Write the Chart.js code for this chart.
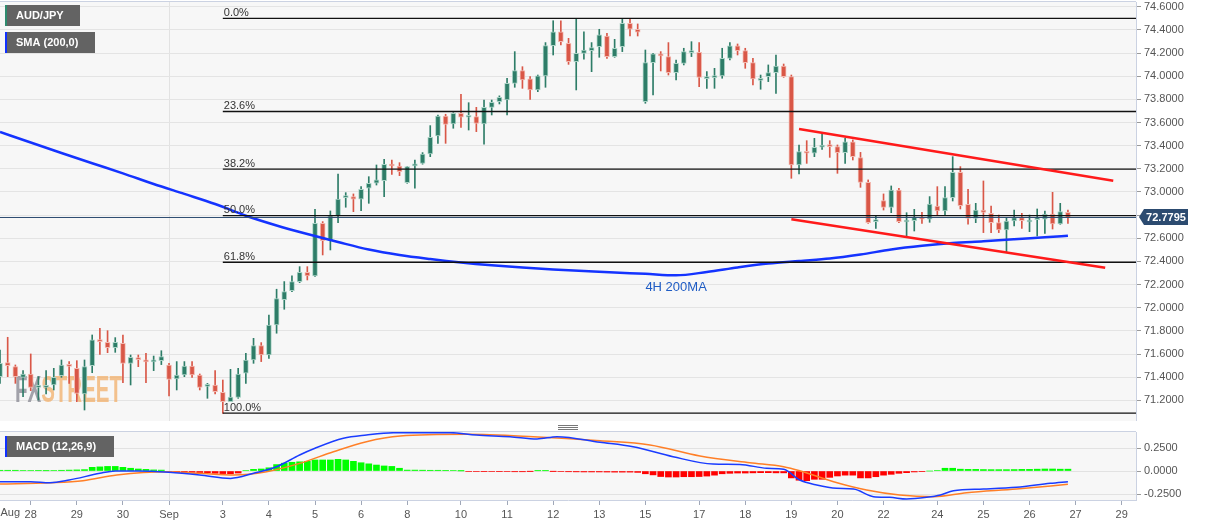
<!DOCTYPE html>
<html><head><meta charset="utf-8">
<script src="https://cdn.jsdelivr.net/npm/chart.js@4.4.1/dist/chart.umd.min.js"></script>
<style>
html,body{margin:0;padding:0;background:#fff;overflow:hidden;width:1207px;height:526px}
#main{position:absolute;left:0;top:0}
#macd{position:absolute;left:0;top:421px}
</style></head><body>
<canvas id="main" width="1207" height="425"></canvas>
<canvas id="macd" width="1207" height="105"></canvas>
<script>
// ---------- DATA (4-hour candles, index 0 = first candle of Aug 28) ----------
const FIRST_INDEX = -4;
const opens = [71.405,71.526,71.491,71.399,71.428,71.313,71.313,71.333,71.414,71.509,71.477,71.255,71.500,71.722,71.701,71.655,71.693,71.520,71.569,71.549,71.532,71.543,71.506,71.385,71.419,71.497,71.419,71.321,71.333,71.270,71.189,71.226,71.434,71.549,71.673,71.592,71.851,72.070,72.148,72.226,72.306,72.275,72.729,72.580,72.793,72.951,72.960,72.937,73.032,73.075,73.098,73.239,73.224,73.081,73.224,73.247,73.328,73.484,73.656,73.587,73.679,73.645,73.650,73.587,73.731,73.780,73.794,73.938,74.048,73.976,73.881,74.002,74.264,74.384,74.284,74.125,74.197,74.220,74.255,74.347,74.169,74.255,74.456,74.405,73.780,74.117,74.192,74.169,74.030,74.111,74.203,74.206,73.979,73.987,74.002,74.154,74.261,74.220,74.117,73.964,73.996,74.030,74.088,73.996,73.233,73.348,73.334,73.386,73.400,73.391,73.340,73.432,73.296,73.083,72.744,72.925,72.867,73.017,72.741,72.752,72.781,72.764,72.879,72.836,72.951,73.170,72.893,72.772,72.844,72.816,72.735,72.672,72.749,72.778,72.741,72.761,72.764,72.810,72.724,72.824];
const highs = [71.635,71.745,71.506,71.457,71.601,71.405,71.457,71.477,71.549,71.535,71.543,71.549,71.765,71.822,71.802,71.742,71.765,71.592,71.592,71.606,71.583,71.629,71.520,71.535,71.535,71.535,71.428,71.347,71.457,71.376,71.468,71.477,71.606,71.736,71.699,71.937,72.160,72.226,72.275,72.355,72.355,72.850,72.744,72.836,73.155,72.994,72.983,73.046,73.132,73.233,73.282,73.276,73.253,73.219,73.276,73.340,73.573,73.665,73.671,73.685,73.843,73.771,73.731,73.794,73.794,73.830,73.982,74.212,74.082,73.996,74.010,74.290,74.479,74.479,74.327,74.494,74.384,74.290,74.405,74.370,74.318,74.494,74.494,74.451,74.226,74.197,74.212,74.290,74.140,74.241,74.298,74.290,74.039,74.068,74.241,74.290,74.278,74.241,74.154,74.010,74.097,74.183,74.105,74.010,73.406,73.443,73.463,73.501,73.443,73.406,73.463,73.449,73.342,73.104,72.796,72.983,73.052,73.032,72.821,72.850,72.824,72.960,73.046,73.046,73.305,73.219,73.023,72.902,73.095,72.879,72.801,72.781,72.844,72.816,72.801,72.853,72.836,72.997,72.902,72.844];
const lows = [71.347,71.405,71.347,71.232,71.284,71.203,71.255,71.290,71.399,71.347,71.189,71.117,71.439,71.598,71.612,71.615,71.353,71.333,71.491,71.353,71.457,71.509,71.238,71.290,71.405,71.399,71.290,71.218,71.255,71.088,71.189,71.218,71.347,71.520,71.535,71.563,71.780,71.987,72.139,72.217,72.240,72.270,72.456,72.499,72.735,72.868,72.830,72.839,72.902,73.060,72.960,73.152,73.141,73.075,73.032,73.240,73.305,73.420,73.420,73.550,73.558,73.535,73.521,73.412,73.665,73.760,73.665,73.904,73.895,73.800,73.866,73.904,74.183,74.269,74.102,73.881,74.146,74.039,74.163,74.154,74.163,74.212,74.347,74.347,73.766,73.838,74.045,74.010,73.967,74.097,74.169,73.910,73.895,73.895,73.982,74.140,74.183,74.068,73.924,73.887,73.953,73.852,73.990,73.118,73.155,73.247,73.305,73.368,73.299,73.161,73.247,73.276,73.040,72.729,72.686,72.844,72.821,72.735,72.620,72.663,72.729,72.738,72.796,72.801,72.922,72.853,72.721,72.735,72.649,72.649,72.649,72.479,72.706,72.686,72.657,72.620,72.643,72.680,72.721,72.729];
const closes = [71.520,71.500,71.405,71.428,71.313,71.324,71.324,71.399,71.506,71.494,71.261,71.491,71.722,71.707,71.655,71.701,71.520,71.572,71.552,71.532,71.540,71.578,71.382,71.419,71.497,71.419,71.313,71.333,71.275,71.189,71.229,71.428,71.549,71.673,71.592,71.851,72.080,72.139,72.226,72.306,72.275,72.729,72.580,72.793,72.939,72.960,72.937,73.023,73.075,73.104,73.239,73.224,73.176,73.219,73.242,73.328,73.472,73.656,73.584,73.679,73.645,73.656,73.593,73.731,73.774,73.817,73.938,74.048,73.967,73.881,74.002,74.264,74.384,74.298,74.125,74.197,74.226,74.246,74.356,74.169,74.241,74.456,74.405,74.379,74.117,74.192,74.174,74.030,74.111,74.212,74.212,73.990,73.990,74.002,74.154,74.261,74.220,74.117,73.976,73.982,74.030,74.088,73.996,73.233,73.348,73.334,73.386,73.406,73.391,73.340,73.432,73.305,73.083,72.735,72.752,72.867,73.017,72.744,72.749,72.781,72.764,72.896,72.836,72.951,73.170,72.882,72.772,72.844,72.824,72.735,72.672,72.749,72.778,72.752,72.749,72.770,72.810,72.724,72.830,72.7795];

// 200-period SMA read at sample candle indices
const smaIdx = [-4,0,4,8,12,16,20,24,28,32,36,40,44,48,52,56,60,64,68,72,76,80,84,88,92,96,100,104,108,112,116,120,124,128,132,135];
const smaVal = [73.518,73.427,73.337,73.248,73.161,73.069,72.983,72.896,72.795,72.711,72.637,72.568,72.503,72.456,72.421,72.391,72.367,72.348,72.331,72.318,72.305,72.293,72.280,72.309,72.348,72.382,72.404,72.425,72.460,72.503,72.535,72.559,72.574,72.591,72.609,72.622];

// Fibonacci retracement
const fibLabels = ['0.0%','23.6%','38.2%','50.0%','61.8%','100.0%'];
const fibPrices = [74.50,73.695,73.197,72.795,72.393,71.09];
const fibStartIdx = 25;

// Channel trend lines [start, end]
const upperLineIdx = [100.0,140.9];  const upperLineVal = [73.544,73.097];
const lowerLineIdx = [99.0,139.85];  const lowerLineVal = [72.764,72.346];

const lastPrice = 72.7795;
const priceTicks = [71.2,71.4,71.6,71.8,72.0,72.2,72.4,72.6,72.8,73.0,73.2,73.4,73.6,73.8,74.0,74.2,74.4,74.6];

// MACD (12,26,9)
const macdIdx = [-4,0,2.5,5,9,11,14,18,22,26,29,32,35,37,40.7,43.7,47.2,54.6,58,62.4,65.9,68.5,74.1,78.4,83.6,88.8,92.3,95.8,98,100.1,102.3,104.9,107.1,109.7,111.8,114,116.6,118.4,120.1,124,128.3,132.7,135];
const macdVal = [-0.116,-0.116,-0.127,-0.098,-0.025,0.0,0.0,-0.014,-0.043,-0.080,-0.025,0.047,0.174,0.247,0.355,0.391,0.416,0.417,0.391,0.373,0.348,0.373,0.312,0.264,0.155,0.076,0.072,0.029,0.018,-0.098,-0.152,-0.188,-0.196,-0.279,-0.286,-0.304,-0.286,-0.261,-0.214,-0.196,-0.177,-0.134,-0.116];
const signalIdx = [-4,2.5,6.8,11.2,17.7,22,26.4,30.7,35,39.4,43.7,48.1,56.7,65.4,74.1,80.6,87.1,93.6,98,100.1,104.5,108.8,113.1,117.5,121.8,128.3,135];
const signalVal = [-0.141,-0.127,-0.105,-0.043,-0.007,-0.025,-0.043,-0.007,0.083,0.210,0.319,0.380,0.399,0.373,0.329,0.283,0.163,0.090,0.047,0.003,-0.116,-0.207,-0.261,-0.279,-0.236,-0.196,-0.145];
const histVal = [0.008,0.008,0.008,0.006,0.005,0.004,0.003,0.006,0.008,0.010,0.012,0.015,0.040,0.045,0.050,0.050,0.040,0.030,0.022,0.018,0.012,0.010,-0.008,-0.010,-0.013,-0.014,-0.017,-0.018,-0.025,-0.028,-0.030,-0.022,0.005,0.018,0.022,0.035,0.070,0.085,0.095,0.100,0.105,0.120,0.120,0.120,0.127,0.120,0.105,0.090,0.078,0.065,0.055,0.050,0.030,0.010,0.010,0.009,0.008,0.008,0.007,0.006,0.001,-0.006,-0.006,-0.007,-0.005,-0.004,-0.006,-0.008,-0.008,-0.002,0.003,0.003,-0.002,-0.006,-0.008,-0.009,-0.010,-0.010,-0.010,-0.011,-0.012,-0.012,-0.012,-0.015,-0.030,-0.042,-0.060,-0.065,-0.065,-0.062,-0.062,-0.060,-0.055,-0.045,-0.030,-0.025,-0.022,-0.022,-0.020,-0.018,-0.018,-0.020,-0.020,-0.075,-0.100,-0.105,-0.090,-0.090,-0.069,-0.054,-0.045,-0.045,-0.075,-0.075,-0.062,-0.045,-0.036,-0.025,-0.018,-0.010,-0.004,0.000,0.006,0.030,0.030,0.020,0.018,0.018,0.016,0.015,0.015,0.015,0.016,0.018,0.018,0.020,0.022,0.022,0.020,0.020];
const macdTicks = [-0.25,0,0.25];

// Date axis
const tickPositions = [0,6,12,18,25,31,37,43,49,56,62,68,74,80,87,93,99,105,111,118,124,130,136,142];
const tickLabels = ['28','29','30','Sep','3','4','5','6','8','10','11','12','13','15','17','18','19','20','22','24','25','26','27','29'];
const firstMonthLabel = 'Aug';

// ---------- STYLE ----------
const X_MIN = -4.0, X_MAX = 143.86;
const UP = '#2e7d68', DOWN = '#d95747', UP_EDGE = '#a9d2c5', DOWN_EDGE = '#f2b9b0';
const FONT = '"Liberation Sans", Arial, sans-serif';
Chart.defaults.font.family = FONT;
Chart.defaults.animation = false;

const candleX = opens.map((_, i) => FIRST_INDEX + i);
const isUp = i => closes[i] >= opens[i];
const pts = (xs, ys) => xs.map((x, i) => ({x, y: ys[i]}));

function fixY(w){ return s => { s.width = w; s.paddingTop = 0; s.paddingBottom = 0; }; }
function fixX(h){ return s => { s.height = h; s.paddingLeft = 0; s.paddingRight = 0; }; }

function legendBox(ctx, x, y, w, h, stripe, text){
  ctx.save();
  ctx.fillStyle = '#636363'; ctx.fillRect(x, y, w, h);
  ctx.fillStyle = stripe; ctx.fillRect(x, y, 2, h);
  ctx.fillStyle = '#fff'; ctx.font = 'bold 11px ' + FONT;
  ctx.textAlign = 'left'; ctx.textBaseline = 'middle';
  ctx.fillText(text, x + 11, y + h/2 + 0.5);
  ctx.restore();
}

const lineDs = (data, color, width, order, extra) => Object.assign({
  type: 'line', data, borderColor: color, borderWidth: width, pointRadius: 0,
  fill: false, order, tension: 0
}, extra || {});

// ---------- MAIN CHART ----------
const fibDatasets = fibPrices.map(p => lineDs([{x: fibStartIdx, y: p}, {x: X_MAX, y: p}], '#111', 1.3, 2));

const mainDecor = {
  id: 'mainDecor',
  beforeDraw(chart){
    const {ctx, chartArea: a} = chart;
    ctx.save();
    ctx.fillStyle = '#fff'; ctx.fillRect(0, 0, chart.width, chart.height);
    ctx.fillStyle = '#f7f7f7'; ctx.fillRect(a.left, a.top, a.right - a.left, a.bottom - a.top);
    ctx.restore();
  },
  beforeDatasetsDraw(chart){
    const {ctx} = chart;
    ctx.save();
    ctx.font = 'bold 36px ' + FONT;
    const wFX = ctx.measureText('FX').width, wST = ctx.measureText('STREET').width;
    const sx = 107 / (wFX + wST);
    ctx.translate(15, 402); ctx.scale(sx, 1);
    ctx.textBaseline = 'alphabetic'; ctx.textAlign = 'left';
    ctx.fillStyle = 'rgba(140,140,150,0.8)'; ctx.fillText('FX', 0, 0);
    ctx.fillStyle = 'rgba(242,175,105,0.75)'; ctx.fillText('STREET', wFX, 0);
    ctx.restore();
  },
  afterDatasetsDraw(chart){
    const {ctx, chartArea: a} = chart;
    const xs = chart.scales.x, ys = chart.scales.y;
    ctx.save();
    // fib labels
    ctx.font = '11px ' + FONT; ctx.fillStyle = '#333';
    ctx.textAlign = 'left'; ctx.textBaseline = 'alphabetic';
    const fx = xs.getPixelForValue(fibStartIdx);
    fibLabels.forEach((t, i) => ctx.fillText(t, fx + 1, ys.getPixelForValue(fibPrices[i]) - 2.5));
    // SMA label
    ctx.font = '13px ' + FONT; ctx.fillStyle = '#1f5cc4'; ctx.textAlign = 'center'; ctx.textBaseline = 'middle';
    ctx.fillText('4H 200MA', xs.getPixelForValue(84), ys.getPixelForValue(72.175));
    // borders
    ctx.strokeStyle = '#cbd2e2'; ctx.lineWidth = 1;
    ctx.beginPath();
    ctx.moveTo(0, a.top - 0.5); ctx.lineTo(a.right, a.top - 0.5);
    ctx.moveTo(0, a.bottom + 0.5); ctx.lineTo(a.right, a.bottom + 0.5);
    ctx.stroke();
    // last price tag
    const py = Math.round(ys.getPixelForValue(lastPrice));
    ctx.fillStyle = '#2c4b70';
    ctx.beginPath();
    ctx.moveTo(a.right + 3, py); ctx.lineTo(a.right + 8, py - 8); ctx.lineTo(a.right + 52, py - 8);
    ctx.lineTo(a.right + 52, py + 8); ctx.lineTo(a.right + 8, py + 8); ctx.closePath(); ctx.fill();
    ctx.fillStyle = '#fff'; ctx.font = 'bold 11px ' + FONT; ctx.textAlign = 'center'; ctx.textBaseline = 'middle';
    ctx.fillText(lastPrice.toFixed(4), a.right + 30, py + 0.5);
    ctx.restore();
    legendBox(ctx, 5, 5, 75, 21, '#2e8b6e', 'AUD/JPY');
    legendBox(ctx, 5, 32, 90, 21, '#1030ff', 'SMA (200,0)');
  }
};

new Chart(document.getElementById('main'), {
  type: 'bar',
  data: {
    datasets: [
      { type: 'bar', data: candleX.map((x, i) => ({x, y: [lows[i], highs[i]]})),
        backgroundColor: c => isUp(c.dataIndex) ? UP : DOWN, barThickness: 1, grouped: false, order: 6, borderWidth: 0 },
      { type: 'bar', data: candleX.map((x, i) => ({x, y: [opens[i], closes[i]]})),
        backgroundColor: c => isUp(c.dataIndex) ? UP : DOWN,
        borderColor: c => isUp(c.dataIndex) ? UP_EDGE : DOWN_EDGE,
        borderWidth: 1, borderSkipped: false, barThickness: 5, minBarLength: 2, grouped: false, order: 5 },
      lineDs(pts(smaIdx, smaVal), '#1433ff', 2.5, 3, {cubicInterpolationMode: 'monotone'}),
      ...fibDatasets,
      lineDs([{x: X_MIN, y: lastPrice}, {x: X_MAX, y: lastPrice}], '#2c4b70', 1, 2),
      lineDs(pts(upperLineIdx, upperLineVal), '#ff1a1a', 2.5, 1),
      lineDs(pts(lowerLineIdx, lowerLineVal), '#ff1a1a', 2.5, 1)
    ]
  },
  options: {
    responsive: false, devicePixelRatio: 1, events: [],
    layout: { padding: { top: 2, bottom: 4, left: 0, right: 0 } },
    plugins: { legend: { display: false }, tooltip: { enabled: false } },
    scales: {
      x: { type: 'linear', min: X_MIN, max: X_MAX, offset: false,
        afterBuildTicks: s => { s.ticks = tickPositions.map(v => ({value: v})); },
        afterFit: fixX(0),
        ticks: { display: false },
        grid: { offset: false, drawTicks: false, color: c => (c.tick && c.tick.value === 18) ? '#e2e2e2' : 'rgba(0,0,0,0)' },
        border: { display: false } },
      y: { type: 'linear', position: 'right', min: 71.022, max: 74.6406,
        afterBuildTicks: s => { s.ticks = priceTicks.map(v => ({value: v})); },
        afterFit: fixY(71),
        ticks: { callback: v => Number(v).toFixed(4), color: '#555', font: { size: 11 }, padding: 3 },
        grid: { color: '#e4e4e4', tickLength: 5, tickColor: '#999' },
        border: { color: '#cbd2e2' } }
    }
  },
  plugins: [mainDecor]
});

// ---------- MACD CHART ----------
const macdDecor = {
  id: 'macdDecor',
  beforeDraw(chart){
    const {ctx, chartArea: a} = chart;
    ctx.save();
    ctx.fillStyle = '#fff'; ctx.fillRect(0, 0, chart.width, chart.height);
    ctx.fillStyle = '#f7f7f7'; ctx.fillRect(a.left, a.top, a.right - a.left, a.bottom - a.top);
    ctx.restore();
  },
  afterDraw(chart){
    const {ctx, chartArea: a} = chart;
    ctx.save();
    ctx.strokeStyle = '#cbd2e2'; ctx.lineWidth = 1;
    ctx.beginPath(); ctx.moveTo(0, a.top - 0.5); ctx.lineTo(a.right, a.top - 0.5); ctx.stroke();
    // resize handle
    ctx.strokeStyle = '#777';
    ctx.beginPath();
    [4.5, 6.5, 8.5].forEach(y => { ctx.moveTo(558, y); ctx.lineTo(578, y); });
    ctx.stroke();
    // month prefix on the first date label
    ctx.fillStyle = '#555'; ctx.font = '11px ' + FONT; ctx.textAlign = 'right'; ctx.textBaseline = 'middle';
    ctx.fillText(firstMonthLabel, 20, a.bottom + 13);
    ctx.restore();
    legendBox(ctx, 5, 15, 109, 21, '#1030ff', 'MACD (12,26,9)');
  }
};

new Chart(document.getElementById('macd'), {
  type: 'bar',
  data: {
    datasets: [
      { type: 'bar', data: candleX.map((x, i) => ({x, y: histVal[i]})),
        backgroundColor: c => histVal[c.dataIndex] >= 0 ? '#00ff00' : '#ff0000',
        barThickness: 6, grouped: false, order: 3, borderWidth: 0 },
      lineDs(pts(signalIdx, signalVal), '#ff7f27', 1.5, 2, {cubicInterpolationMode: 'monotone'}),
      lineDs(pts(macdIdx, macdVal), '#1a3cff', 1.5, 1, {cubicInterpolationMode: 'monotone'})
    ]
  },
  options: {
    responsive: false, devicePixelRatio: 1, events: [],
    layout: { padding: { top: 11, bottom: 0, left: 0, right: 0 } },
    plugins: { legend: { display: false }, tooltip: { enabled: false } },
    scales: {
      x: { type: 'linear', min: X_MIN, max: X_MAX, offset: false,
        afterBuildTicks: s => { s.ticks = tickPositions.map(v => ({value: v})); },
        afterFit: fixX(26),
        ticks: { autoSkip: false, maxRotation: 0, color: '#555', font: { size: 11 }, padding: 3,
          callback: (v, i) => tickLabels[i] },
        grid: { offset: false, tickLength: 5, tickColor: '#a0a8b8',
          color: c => (c.tick && c.tick.value === 18) ? '#e2e2e2' : 'rgba(0,0,0,0)' },
        border: { color: '#cbd2e2' } },
      y: { type: 'linear', position: 'right', min: -0.315, max: 0.424,
        afterBuildTicks: s => { s.ticks = macdTicks.map(v => ({value: v})); },
        afterFit: fixY(71),
        ticks: { callback: v => Number(v).toFixed(4), color: '#555', font: { size: 11 }, padding: 3 },
        grid: { color: '#e2e2e2', tickLength: 5, tickColor: '#999' },
        border: { color: '#cbd2e2' } }
    }
  },
  plugins: [macdDecor]
});
</script>
</body></html>
